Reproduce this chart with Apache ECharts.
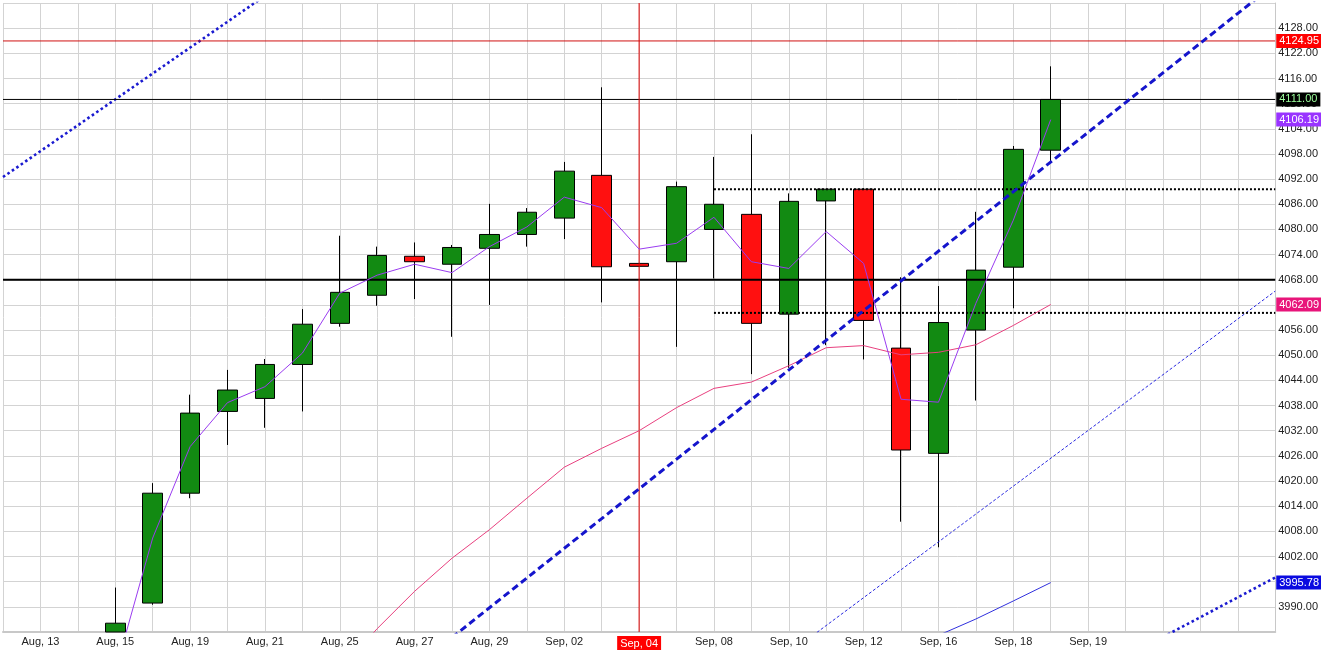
<!DOCTYPE html>
<html><head><meta charset="utf-8">
<script src="https://cdn.jsdelivr.net/npm/echarts@6/dist/echarts.min.js"></script>
<style>html,body{margin:0;padding:0;background:#fff}#c{width:1321px;height:662px}</style>
</head><body><div id="c"></div>
<script>
// ---- categories (one per session; labels shown on every other one) ----
const categories = ['Aug, 12','Aug, 13','Aug, 14','Aug, 15','Aug, 16','Aug, 19','Aug, 20','Aug, 21','Aug, 22','Aug, 25',
  'Aug, 26','Aug, 27','Aug, 28','Aug, 29','Aug, 30','Sep, 02','Sep, 03','Sep, 04','Sep, 05','Sep, 08',
  'Sep, 09','Sep, 10','Sep, 11','Sep, 12','Sep, 15','Sep, 16','Sep, 17','Sep, 18','Sep, 18 PM','Sep, 19',
  'Sep, 22','Sep, 23','Sep, 24','Sep, 25','Sep, 26'];
const highlightCategory = 'Sep, 04';
const lastLabelIndex = 29;

// ---- OHLC ----
const opens  = [null,null,null,3984.0,3990.9,4017.1,4036.6,4039.7,4047.8,4057.6,4064.3,4073.6,4071.7,4075.5,4078.8,4082.7,4092.9,4071.9,4072.3,4080.0,4083.6,4059.8,4086.8,4089.6,4051.7,4026.6,4056.0,4071.0,4098.9];
const closes = [null,null,null,3986.1,4017.1,4036.2,4041.7,4047.8,4057.4,4065.0,4073.8,4072.3,4075.7,4078.8,4084.1,4093.9,4071.1,4071.2,4090.2,4086.0,4057.6,4086.7,4089.6,4058.3,4027.4,4057.8,4070.3,4099.1,4111.0];
const lows   = [null,null,null,3984.0,3990.5,4015.9,4028.6,4032.7,4036.6,4056.8,4061.8,4063.4,4054.4,4062.0,4075.9,4077.7,4062.6,4071.1,4052.0,4068.3,4045.5,4047.0,4052.4,4049.0,4010.3,4004.2,4039.2,4061.2,4096.1];
const highs  = [null,null,null,3994.6,4019.5,4040.6,4046.5,4049.1,4061.0,4078.5,4075.9,4076.9,4076.3,4086.1,4085.1,4096.1,4113.9,4072.0,4091.4,4097.3,4102.7,4088.6,4089.6,4089.8,4068.6,4066.5,4084.2,4099.9,4118.9];

// ---- indicator lines ----
const fastLine = [null,null,null,3974.6,4006.4,4028.2,4038.7,4042.5,4050.5,4064.8,4069.1,4071.7,4069.7,4075.9,4080.6,4087.7,4085.2,4075.3,4076.7,4082.9,4072.3,4070.7,4079.5,4071.9,4039.5,4038.8,4062.4,4082.2,4106.19];
const slowLine = [null,null,null,null,null,null,null,null,null,3975.0,3984.8,3993.7,4001.6,4008.4,4015.9,4023.3,4027.8,4032.0,4037.5,4042.1,4043.6,4047.5,4051.8,4052.3,4050.1,4050.7,4052.5,4057.1,4062.09];
const lowerBand = [null,null,null,null,null,null,null,null,null,null,null,null,null,null,null,null,null,null,null,null,null,null,null,null,null,3983.2,3987.1,3991.4,3995.78];

// ---- drawn trend lines: [categoryIndex, price] endpoints ----
const channelMain  = [[12, 3982.7], [34, 4138.6]];
const channelLower = [[21, 3978.9], [34, 4065.3]];
const dottedUpper  = [[0, 4092.5], [7, 4135.7]];
const dottedLower  = [[31, 3982.8], [34, 3997.0]];
const resistanceDots = [[19, 4089.6], [34, 4089.6]];
const supportDots    = [[19, 4060.1], [34, 4060.1]];

// ---- horizontal levels ----
const redLevel = 4124.95;
const blackLevel = 4111.00;
const thickLevel = 4068.00;

// ---- y axis ticks ----
const yMin = 3984, yMax = 4134, yStep = 6;

const FONT = '"Liberation Sans Narrow","Liberation Sans",Arial,sans-serif';
const lastIdx = categories.length - 1;
const nz = a => a.map(v => v == null ? '-' : v);
const hline = v => [[0, v], [lastIdx, v]];
const candleData = categories.map((c, i) => opens[i] == null ? '-' : [opens[i], closes[i], lows[i], highs[i]]);
const tagLabel = (bg, fg) => ({show:true, position:'end', distance:1, color:fg, backgroundColor:bg,
  padding:[2,3,1,3], fontSize:11, fontFamily:FONT, formatter: p => p.value.toFixed(2)});
const tagLine = (v, bg, fg) => ({silent:true, symbol:['none','none'], animation:false,
  data:[{yAxis:v, lineStyle:{color:'transparent', width:0}, label:tagLabel(bg, fg)}]});
const plain = (data, ls, extra) => Object.assign({type:'line', data, symbol:'none', silent:true, clip:true, lineStyle:ls}, extra || {});

const chart = echarts.init(document.getElementById('c'), null, {renderer:'canvas'});
chart.setOption({
  animation:false,
  backgroundColor:'#fff',
  grid:{left:3, right:43, top:3, bottom:30, containLabel:false},
  xAxis:{
    type:'category', data:categories, boundaryGap:false,
    axisLine:{show:true, lineStyle:{color:'#c8c8c8', width:2}},
    axisTick:{show:false},
    splitLine:{show:true, interval:0, lineStyle:{color:'#d3d3d3', width:1}},
    axisLabel:{
      interval:(i) => i % 2 === 1 && i <= lastLabelIndex, margin:4, fontSize:11, fontFamily:FONT, color:'#222',
      formatter:(v) => v === highlightCategory ? '{hl|' + v + '}' : v,
      rich:{hl:{color:'#fff', backgroundColor:'#ff0000', padding:[2,3,1,3], fontSize:11, fontFamily:FONT}}
    }
  },
  yAxis:{
    type:'value', position:'right', min:yMin, max:yMax, interval:yStep, scale:true,
    axisLine:{show:true, lineStyle:{color:'#c8c8c8', width:1}},
    axisTick:{show:false},
    splitLine:{show:true, lineStyle:{color:'#d3d3d3', width:1}},
    axisLabel:{showMinLabel:false, showMaxLabel:false, margin:3, fontSize:11, fontFamily:FONT, color:'#222',
      formatter:(v) => v.toFixed(2)}
  },
  series:[
    {type:'candlestick', data:candleData, barWidth:20, silent:true, clip:true,
     itemStyle:{color:'#128a12', color0:'#ff1010', borderColor:'#000', borderColor0:'#000', borderColorDoji:'#000', borderWidth:1}},
    plain(dottedUpper, {color:'#1a1ad0', width:2.6, type:[2.6,2.8]}),
    plain(dottedLower, {color:'#1a1ad0', width:2.6, type:[2.6,2.8]}),
    plain(channelLower, {color:'#2a2ae0', width:1, type:[3,2]}),
    plain(resistanceDots, {color:'#000', width:2, type:[2,2]}),
    plain(supportDots, {color:'#000', width:2, type:[2,2]}),
    plain(hline(redLevel), {color:'#d01010', width:1}, {markLine:tagLine(redLevel, '#ff0000', '#fff')}),
    plain(hline(blackLevel), {color:'#000', width:1}, {markLine:tagLine(blackLevel, '#000', '#9dff9d')}),
    plain(hline(thickLevel), {color:'#000', width:2}),
    plain([[categories.indexOf(highlightCategory), yMin], [categories.indexOf(highlightCategory), yMax]], {color:'#dd0000', width:1}),
    plain(nz(slowLine), {color:'#e8407f', width:1}, {markLine:tagLine(slowLine[28], '#e8157a', '#fff')}),
    plain(nz(lowerBand), {color:'#3030dd', width:1}, {markLine:tagLine(lowerBand[28], '#0a0ae0', '#fff')}),
    plain(channelMain, {color:'#1515cc', width:3, type:[7,4]}),
    plain(nz(fastLine), {color:'#9a3cf0', width:1}, {markLine:tagLine(fastLine[28], '#9933ff', '#fff')})
  ]
});
</script></body></html>
